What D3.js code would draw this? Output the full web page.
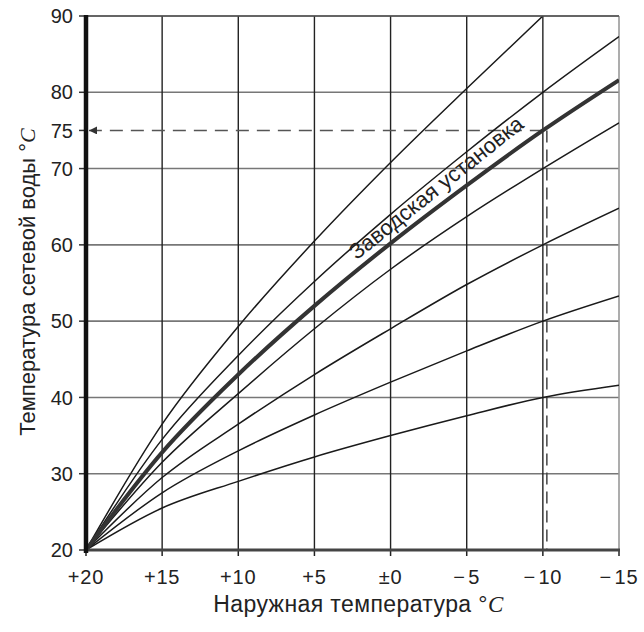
<!DOCTYPE html>
<html>
<head>
<meta charset="utf-8">
<script src="https://cdn.jsdelivr.net/npm/d3@7"></script>
<style>
  body { margin: 0; background: #fff; }
  text { font-family: "Liberation Sans", Arial, sans-serif; fill: #222; }
</style>
</head>
<body>
<svg></svg>
<script>
// outdoor temperatures (x) and supply water curves (y)
const outdoor = [20, 15, 10, 5, 0, -5, -10, -15]
const xTickLabels = ['+20', '+15', '+10', '+5', '\u00b10', '\u2212\u200a5', '\u2212\u200a10', '\u2212\u200a15']
const yTicks = [20, 30, 40, 50, 60, 70, 75, 80, 90]
const yGrid = [30, 40, 50, 60, 70, 80, 90]

const curve1 = [20, 36.5, 49.3, 60.5, 70.8, 80.5, 90]
const curve2 = [20, 34.5, 45.5, 55.2, 64, 72.2, 80, 87.3]
const curveFactory = [20, 32.8, 43, 52, 60.2, 67.8, 75, 81.6]
const curve4 = [20, 31.5, 40.5, 49, 56.8, 63.7, 70, 76]
const curve5 = [20, 29.5, 36.5, 43, 49, 54.8, 60, 64.8]
const curve6 = [20, 27.5, 33, 37.7, 42, 46.1, 50, 53.3]
const curve7 = [20, 25.5, 29, 32.2, 35, 37.6, 40, 41.6]

const designOutdoor = -10
const designSupply = 75

const width = 644
const height = 632
const margin = { top: 16, right: 25, bottom: 82, left: 86 }
const innerWidth = width - margin.left - margin.right
const innerHeight = height - margin.top - margin.bottom

const xScale = d3.scaleLinear().domain([20, -15]).range([0, innerWidth])
const yScale = d3.scaleLinear().domain([20, 90]).range([innerHeight, 0])

const svg = d3.select('svg')
    .attr('width', width)
    .attr('height', height)

svg.append('defs').append('clipPath').attr('id', 'plot')
    .append('rect').attr('width', innerWidth).attr('height', innerHeight)

const marker = svg.select('defs').append('marker')
    .attr('id', 'arrow')
    .attr('viewBox', '0 0 10 10')
    .attr('refX', 10).attr('refY', 5)
    .attr('markerWidth', 16).attr('markerHeight', 8)
    .attr('markerUnits', 'userSpaceOnUse')
    .attr('orient', 'auto')
marker.append('path').attr('d', 'M0,0 L10,5 L0,10 Z').attr('fill', '#333')

const g = svg.append('g')
    .attr('transform', `translate(${margin.left},${margin.top})`)

// horizontal grid
g.selectAll('.hgrid')
    .data(yGrid)
    .enter()
    .append('line')
    .attr('x1', 0).attr('x2', innerWidth)
    .attr('y1', d => yScale(d)).attr('y2', d => yScale(d))
    .attr('stroke', '#777').attr('stroke-width', 1.6)

// vertical grid
g.selectAll('.vgrid')
    .data(outdoor.slice(1))
    .enter()
    .append('line')
    .attr('x1', d => xScale(d)).attr('x2', d => xScale(d))
    .attr('y1', 0).attr('y2', innerHeight)
    .attr('stroke', d => d === -15 ? '#999' : '#222')
    .attr('stroke-width', d => d === -15 ? 1.6 : 1.4)

// tick marks
g.selectAll('.ytick')
    .data(yTicks)
    .enter()
    .append('line')
    .attr('x1', -7).attr('x2', 0)
    .attr('y1', d => yScale(d)).attr('y2', d => yScale(d))
    .attr('stroke', '#333').attr('stroke-width', 1.5)
g.selectAll('.xtick')
    .data(outdoor)
    .enter()
    .append('line')
    .attr('x1', d => xScale(d)).attr('x2', d => xScale(d))
    .attr('y1', innerHeight).attr('y2', innerHeight + 6)
    .attr('stroke', '#222').attr('stroke-width', 1.5)

// dashed design-point guides
g.append('line')
    .attr('x1', xScale(designOutdoor) + 4).attr('x2', xScale(designOutdoor) + 4)
    .attr('y1', yScale(designSupply)).attr('y2', innerHeight)
    .attr('stroke', '#444').attr('stroke-width', 1.5)
    .attr('stroke-dasharray', '12 7')
g.append('line')
    .attr('x1', xScale(designOutdoor)).attr('x2', 3)
    .attr('y1', yScale(designSupply)).attr('y2', yScale(designSupply))
    .attr('stroke', '#555').attr('stroke-width', 1.5)
    .attr('stroke-dasharray', '13 8')
    .attr('marker-end', 'url(#arrow)')

// curves
const line = d3.line()
    .x((d, i) => xScale(outdoor[i]))
    .y(d => yScale(d))
    .curve(d3.curveMonotoneX)

const curves = [curve1, curve2, curve4, curve5, curve6, curve7]
g.append('g').attr('clip-path', 'url(#plot)')
    .selectAll('path')
    .data(curves)
    .enter()
    .append('path')
    .attr('d', line)
    .attr('fill', 'none')
    .attr('stroke', '#1a1a1a')
    .attr('stroke-width', 1.5)

g.append('path')
    .datum(curveFactory)
    .attr('clip-path', 'url(#plot)')
    .attr('d', line)
    .attr('fill', 'none')
    .attr('stroke', '#333')
    .attr('stroke-width', 4)

// frame: thick left and bottom axes
g.append('line')
    .attr('x1', 0).attr('x2', innerWidth)
    .attr('y1', 0).attr('y2', 0)
    .attr('stroke', '#555').attr('stroke-width', 1.5)
g.append('line')
    .attr('x1', 0).attr('x2', innerWidth + 1)
    .attr('y1', innerHeight).attr('y2', innerHeight)
    .attr('stroke', '#444').attr('stroke-width', 3)
g.append('line')
    .attr('x1', 0).attr('x2', 0)
    .attr('y1', -1).attr('y2', innerHeight + 3)
    .attr('stroke', '#111').attr('stroke-width', 4.5)

// tick labels
g.selectAll('.ylabel')
    .data(yTicks)
    .enter()
    .append('text')
    .attr('x', -13)
    .attr('y', d => yScale(d))
    .attr('dy', '0.36em')
    .attr('text-anchor', 'end')
    .style('font-size', '20px')
    .text(d => d)

g.selectAll('.xlabel')
    .data(outdoor)
    .enter()
    .append('text')
    .attr('x', d => xScale(d))
    .attr('y', innerHeight + 34)
    .attr('text-anchor', 'middle')
    .style('font-size', '20px')
    .style('letter-spacing', '0.8px')
    .text((d, i) => xTickLabels[i])

// axis titles
const xTitle = svg.append('text')
    .attr('x', margin.left + innerWidth / 2 + 6)
    .attr('y', 612)
    .attr('text-anchor', 'middle')
    .style('font-size', '23px')
    .style('letter-spacing', '0.4px')
xTitle.append('tspan').text('Наружная температура \u00b0')
xTitle.append('tspan').style('font-family', '"Liberation Serif", serif').style('font-style', 'italic').text('C')

const yTitle = svg.append('text')
    .attr('transform', `translate(35,282) rotate(-90)`)
    .attr('text-anchor', 'middle')
    .style('font-size', '22px')
yTitle.append('tspan').text('Температура сетевой воды \u00b0')
yTitle.append('tspan').style('font-family', '"Liberation Serif", serif').style('font-style', 'italic').text('C')

// curve annotation
const labelAt = 2.1
const labelY = yScale(curveFactory[3] + (curveFactory[4] - curveFactory[3]) * ((5 - labelAt) / 5))
g.append('text')
    .attr('transform', `translate(${xScale(labelAt) - 2},${labelY - 9}) rotate(-38.5)`)
    .style('font-size', '22px')
    .text('Заводская установка')
</script>
</body>
</html>
